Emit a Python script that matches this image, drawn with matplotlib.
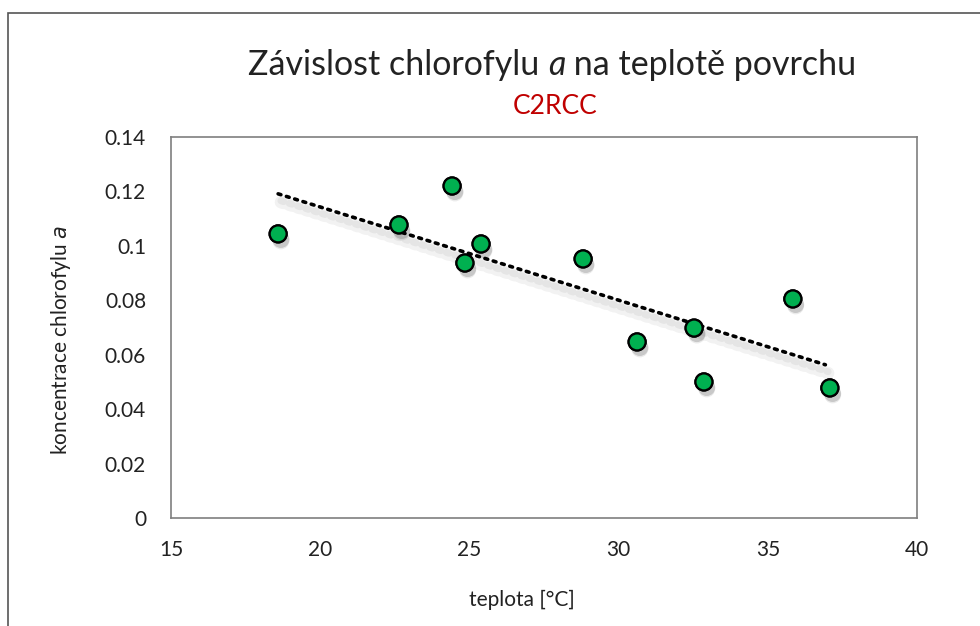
import numpy as np
import matplotlib
matplotlib.use("Agg")
import matplotlib.pyplot as plt
import matplotlib.patheffects as pe
from matplotlib.patches import Rectangle

# Data
teplota = [18.59, 22.64, 24.42, 24.85, 25.39, 28.81, 30.62, 32.53, 32.86, 35.84, 37.08]
chlorofyl = [0.1044, 0.1077, 0.1220, 0.0937, 0.1007, 0.0952, 0.0647, 0.0698, 0.0500, 0.0805, 0.0478]
x_ticks = [15, 20, 25, 30, 35, 40]
y_ticks = [0, 0.02, 0.04, 0.06, 0.08, 0.1, 0.12, 0.14]
y_tick_labels = ["0", "0.02", "0.04", "0.06", "0.08", "0.1", "0.12", "0.14"]

plt.rcParams['font.family'] = ['Lato', 'DejaVu Sans']

W, H = 980, 626
fig = plt.figure(figsize=(W / 100, H / 100), dpi=100)
fig.patch.set_facecolor('white')

# outer chart frame (partly cropped)
fig.patches.append(Rectangle((8 / W, -0.1), 1.2, (H - 13) / H + 0.1, transform=fig.transFigure,
                             fill=False, edgecolor='#555555', linewidth=1.2))

ax = fig.add_axes([171 / W, 1 - 518 / H, (917 - 171) / W, (518 - 137) / H])
ax.set_xlim(15, 40)
ax.set_ylim(0, 0.14)
ax.set_xticks(x_ticks)
ax.set_yticks(y_ticks)
ax.set_yticklabels(y_tick_labels)
ax.tick_params(length=0, labelsize=15, colors='#222222')
ax.tick_params(axis='y', pad=18)
ax.tick_params(axis='x', pad=16)
for s in ax.spines.values():
    s.set_color('#7f7f7f')
    s.set_linewidth(1.2)

# trendline
coef = np.polyfit(teplota, chlorofyl, 1)
xs = np.array([min(teplota), max(teplota) - 0.15])
ax.plot(xs, np.polyval(coef, xs), linestyle=(0, (0.8, 1.6)), color='black', linewidth=2.6,
        dash_capstyle='round', zorder=3,
        path_effects=[pe.SimpleLineShadow(offset=(2, -6), shadow_color='black', alpha=0.05, linewidth=9),
                      pe.SimpleLineShadow(offset=(2, -5), shadow_color='black', alpha=0.05, linewidth=5),
                      pe.Normal()])

# points with soft shadow
shadow = [pe.withSimplePatchShadow(offset=(2, -5), shadow_rgbFace='black', alpha=0.08),
          pe.SimplePatchShadow(offset=(2, -4), shadow_rgbFace='black', alpha=0.15),
          pe.Normal()]
sc = ax.scatter(teplota, chlorofyl, s=150, color='#00B050', edgecolor='black', linewidth=1.6, zorder=4)
sc.set_path_effects(shadow)

# y label with italic a
ylab = ax.set_ylabel('koncentrace chlorofylu $\\it{a}$', fontsize=15, color='#222222', va='center')
ax.yaxis.set_label_coords(61 / W, 1 - 340 / H, transform=fig.transFigure)
fig.text(522 / W, 1 - 600 / H, 'teplota [°C]', fontsize=15, color='#222222', ha='center', va='center')

# title pieces
fig.canvas.draw()
r = fig.canvas.get_renderer()
parts = [('Závislost chlorofylu ', 'normal'), ('a', 'italic'), (' na teplotě povrchu', 'normal')]
texts = []
widths = []
for s, st in parts:
    t = fig.text(0, 1 - 65 / H, s, fontsize=24.5, style=st, color='#222222', va='center', ha='left')
    texts.append(t)
    widths.append(t.get_window_extent(renderer=r).width)
total = sum(widths)
x0 = 552 - total / 2
for t, w in zip(texts, widths):
    t.set_x(x0 / W)
    x0 += w
fig.text(555 / W, 1 - 106 / H, 'C2RCC', fontsize=19, color='#C00000', ha='center', va='center')

fig.savefig('out.png', dpi=100, facecolor='white')
